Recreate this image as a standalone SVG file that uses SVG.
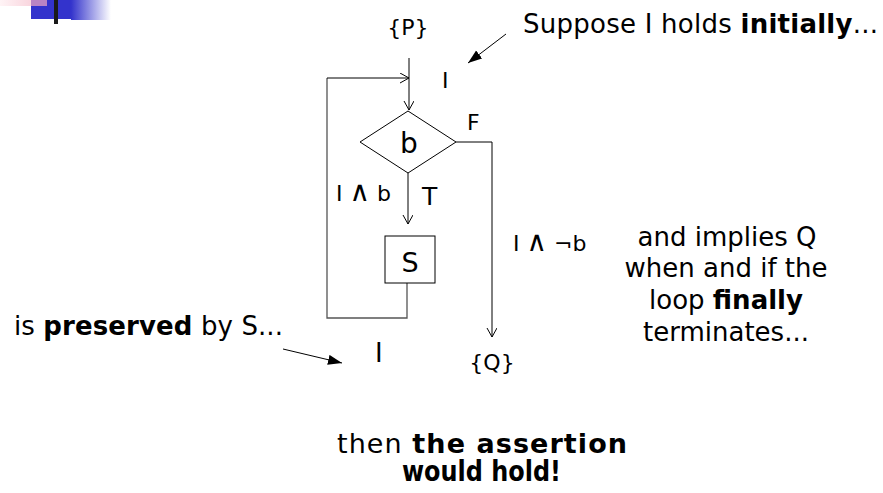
<svg xmlns="http://www.w3.org/2000/svg" width="883" height="493" viewBox="0 0 883 493">
<defs>
<linearGradient id="pink" x1="0" y1="0" x2="1" y2="0">
<stop offset="0" stop-color="#fff4f6"/>
<stop offset="1" stop-color="#f6c6d2"/>
</linearGradient>
<linearGradient id="blue" x1="0" y1="0" x2="1" y2="0">
<stop offset="0" stop-color="#3333cc"/>
<stop offset="1" stop-color="#3333cc" stop-opacity="0"/>
</linearGradient>
<marker id="open" markerWidth="12" markerHeight="12" refX="9" refY="5" orient="auto" markerUnits="userSpaceOnUse">
<path d="M0,0 L9,5 L0,10" fill="none" stroke="#000" stroke-width="1"/>
</marker>
<marker id="filled" markerWidth="16" markerHeight="12" refX="14" refY="5" orient="auto" markerUnits="userSpaceOnUse">
<path d="M0,0 L14,5 L0,10 Z" fill="#000"/>
</marker>
</defs>
<style>
.t{font-family:"DejaVu Sans","Liberation Sans",sans-serif;font-size:26px;fill:#000}
.l{font-family:"DejaVu Sans","Liberation Sans",sans-serif;font-size:22px;fill:#000}
.b{font-weight:bold}
.op{font-size:28px}
.ln{fill:none;stroke:#000;stroke-width:1}
.lp{fill:none;stroke:#555;stroke-width:1.3}
</style>
<g id="corner">
<rect x="0" y="0" width="47" height="6" fill="url(#pink)"/>
<rect x="31" y="0" width="40" height="19" fill="#3333cc"/>
<rect x="31" y="0" width="16" height="6" fill="#b884c4"/>
<rect x="71" y="0" width="40" height="20" fill="url(#blue)"/>
<rect x="54" y="0" width="4" height="24" fill="#1a1a1a"/>
</g>
<g id="connectors">
<line class="ln" x1="409" y1="58" x2="409" y2="110" marker-end="url(#open)"/>
<polyline class="lp" points="407,283 407,318 327,318 327,78"/>
<line class="ln" x1="327" y1="78" x2="409" y2="78" marker-end="url(#open)"/>
<line class="ln" x1="408" y1="173" x2="408" y2="224" marker-end="url(#open)"/>
<polyline class="ln" points="456,142 492,142 492,337" marker-end="url(#open)"/>
<line x1="506" y1="34" x2="468" y2="63" stroke="#000" stroke-width="1" marker-end="url(#filled)"/>
<line x1="283" y1="349" x2="342" y2="363" stroke="#000" stroke-width="1" marker-end="url(#filled)"/>
</g>
<g id="decision">
<polygon points="408,111 456,142 408,173 360,142" fill="#fff" stroke="#000" stroke-width="1"/>
<text class="l" x="409" y="153" text-anchor="middle" style="font-size:28px">b</text>
</g>
<g id="stmt">
<rect x="385" y="236" width="50" height="47" fill="#fff" stroke="#000" stroke-width="1"/>
<text class="l" x="410" y="272" text-anchor="middle" style="font-size:27px">S</text>
</g>
<g id="pre"><text class="l" x="408" y="35" text-anchor="middle">{P}</text></g>
<g id="post"><text class="l" x="492" y="370" text-anchor="middle">{Q}</text></g>
<g id="labels">
<text class="l" x="442" y="88">I</text>
<text class="l" x="467" y="130">F</text>
<text class="l" x="336" y="201">I <tspan class="op">∧</tspan> b</text>
<text class="l" x="422" y="205" style="font-size:25px">T</text>
<text class="l" x="513" y="251">I <tspan class="op">∧</tspan> ¬b</text>
<text class="l" x="375" y="362" style="font-size:26px">I</text>
</g>
<g id="notes">
<text class="t" x="523" y="33" textLength="355">Suppose I holds <tspan class="b">initially</tspan>...</text>
<text class="t" x="14" y="335" textLength="269">is <tspan class="b">preserved</tspan> by S...</text>
<text class="t" text-anchor="middle" x="727" y="246">and implies Q</text>
<text class="t" text-anchor="middle" x="726" y="277">when and if the</text>
<text class="t" text-anchor="middle" x="726" y="309">loop <tspan class="b">finally</tspan></text>
<text class="t" text-anchor="middle" x="726" y="341">terminates...</text>
<text class="t" x="337" y="453" style="font-size:27px" textLength="290">then <tspan class="b">the assertion</tspan></text>
<text class="t b" x="402" y="481" style="font-size:28px" textLength="159" lengthAdjust="spacingAndGlyphs">would hold!</text>
</g>
</svg>
